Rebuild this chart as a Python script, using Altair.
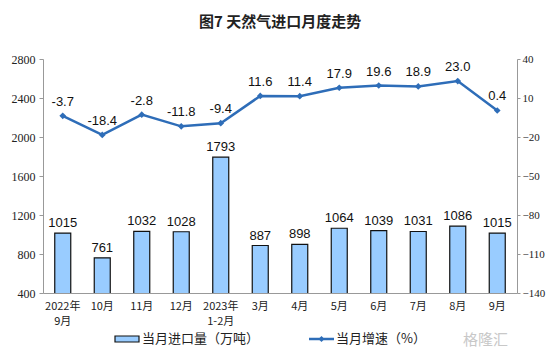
import altair as alt
import pandas as pd

categories = ["2022年|9月", "10月", "11月", "12月", "2023年|1-2月", "3月", "4月", "5月", "6月", "7月", "8月", "9月"]
volume = [1015, 761, 1032, 1028, 1793, 887, 898, 1064, 1039, 1031, 1086, 1015]
growth = [-3.7, -18.4, -2.8, -11.8, -9.4, 11.6, 11.4, 17.9, 19.6, 18.9, 23.0, 0.4]

df = pd.DataFrame({"cat": categories, "vol": volume, "g": growth})
df["g_label"] = [f"{v:.1f}" for v in growth]

W, H = 474, 234
xenc = alt.X("cat:N", sort=categories, title=None,
             scale=alt.Scale(paddingInner=0, paddingOuter=0),
             axis=alt.Axis(labelExpr="datum.value ? split(datum.value, '|') : ''", labelAngle=0,
                           labelFont="Noto Sans CJK SC", labelFontSize=11, labelColor="#222",
                           domainColor="#999", ticks=False, labelOverlap=False,
                           labelPadding=7, labelLineHeight=15))

left_scale = alt.Scale(domain=[400, 2800], nice=False, zero=False)
left_axis = alt.Axis(values=[400, 800, 1200, 1600, 2000, 2400, 2800], grid=False, format="d",
                     labelOverlap=False,
                     labelFont="Liberation Serif", labelFontSize=12, labelColor="#222",
                     domainColor="#999", tickColor="#999", tickSize=4, labelPadding=4)
yleft = alt.Y("vol:Q", title=None, scale=left_scale, axis=left_axis)

bars = alt.Chart(df).mark_bar(size=16, color="#99CCFF", stroke="#111", strokeWidth=1.2, clip=True).encode(
    x=xenc, y=yleft)
bar_text = alt.Chart(df).mark_text(font="Liberation Sans", fontSize=13, baseline="bottom", dy=-3,
                                   color="#111").encode(
    x=xenc, y=yleft, text="vol:Q")

# legend (drawn in the left layer so that y resolution stays two-way)
leg_df = pd.DataFrame({"a": [0]})
leg_rect = alt.Chart(leg_df).mark_rect(color="#99CCFF", stroke="#111", strokeWidth=1.2).encode(
    x=alt.value(72), x2=alt.value(96), y=alt.value(277), y2=alt.value(283))
leg_t1 = alt.Chart(leg_df).mark_text(font="Noto Sans CJK SC", fontSize=13, align="left", baseline="middle",
                                     color="#222").encode(
    x=alt.value(99), y=alt.value(280), text=alt.value("当月进口量（万吨）"))
leg_line = alt.Chart(leg_df).mark_rule(color="#2E6DB8", strokeWidth=2.5).encode(
    x=alt.value(266), x2=alt.value(291), y=alt.value(280))
leg_pt = alt.Chart(leg_df).mark_point(shape="diamond", size=35, color="#2E6DB8", filled=True, opacity=1).encode(
    x=alt.value(278.5), y=alt.value(280))
leg_t2 = alt.Chart(leg_df).mark_text(font="Noto Sans CJK SC", fontSize=13, align="left", baseline="middle",
                                     color="#222").encode(
    x=alt.value(293), y=alt.value(280), text=alt.value("当月增速（%）"))
wm = alt.Chart(leg_df).mark_text(font="Noto Sans CJK SC", fontSize=15, align="left", baseline="middle",
                                 color="#c8c8c8").encode(
    x=alt.value(420), y=alt.value(281), text=alt.value("格隆汇"))

left = alt.layer(bars, bar_text, leg_rect, leg_t1, leg_line, leg_pt, leg_t2, wm)

yright_scale = alt.Scale(domain=[-140, 40], nice=False, zero=False)
right_axis = alt.Axis(orient="right", values=[-140, -110, -80, -50, -20, 10, 40], grid=False,
                      labelOverlap=False,
                      labelFont="Liberation Serif", labelFontSize=11, labelColor="#222",
                      domainColor="#999", tickColor="#999", tickSize=3, labelPadding=2)
yright = alt.Y("g:Q", title=None, scale=yright_scale, axis=right_axis)

line = alt.Chart(df).mark_line(color="#2E6DB8", strokeWidth=2.5,
                               point=alt.OverlayMarkDef(shape="diamond", size=45, color="#2E6DB8", filled=True)).encode(
    x=xenc, y=yright)
line_text = alt.Chart(df).mark_text(font="Liberation Sans", fontSize=13, baseline="bottom", dy=-7,
                                    color="#111").encode(
    x=xenc, y=yright, text="g_label:N")

right = alt.layer(line, line_text)

chart = alt.layer(left, right).resolve_scale(y="independent").properties(
    width=W, height=H,
    title=alt.Title("图7  天然气进口月度走势", font="Noto Sans CJK SC", fontSize=15, fontWeight="bold",
                    color="#222", frame="group", anchor="middle", offset=8, baseline="bottom"),
    autosize=alt.AutoSizeParams(type="none"),
    padding={"left": 35, "top": 51, "right": 29, "bottom": 57},
).configure_view(stroke=None)

chart.save("out.html", embed_options={"renderer": "svg", "actions": False})
